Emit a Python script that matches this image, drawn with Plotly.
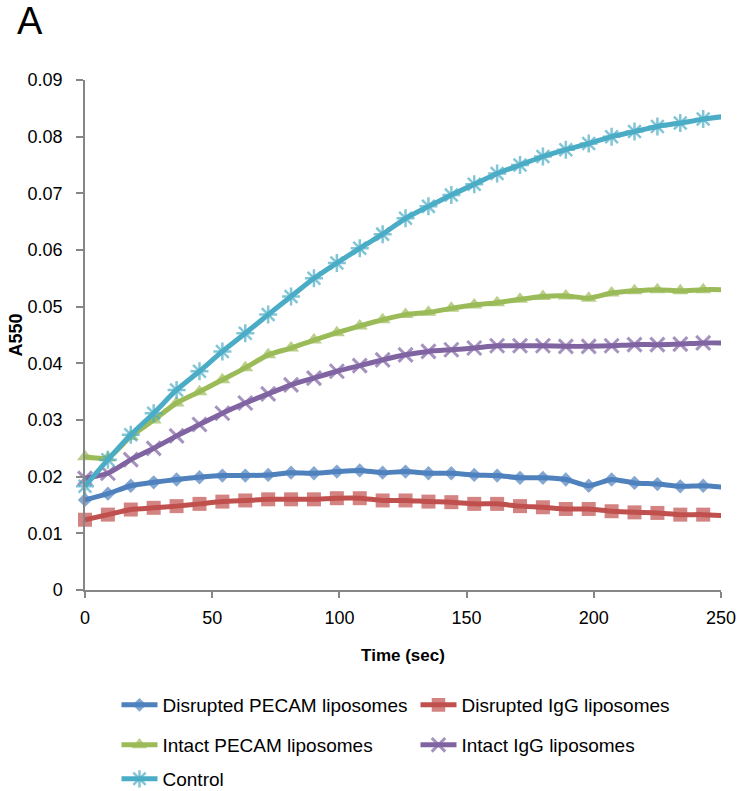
import plotly.graph_objects as go

# Sampling times (s); the final reading lies just past the 250 s axis limit
TIME_SEC = [0, 9, 18, 27, 36, 45, 54, 63, 72, 81, 90, 99, 108, 117, 126,
            135, 144, 153, 162, 171, 180, 189, 198, 207, 216, 225, 234, 243, 252]

DISRUPTED_PECAM = [0.0159, 0.0170, 0.0184, 0.0190, 0.0195, 0.0199, 0.0202, 0.0202,
                   0.0203, 0.0207, 0.0206, 0.0209, 0.0211, 0.0207, 0.0209, 0.0206,
                   0.0206, 0.0203, 0.0202, 0.0198, 0.0198, 0.0195, 0.0184, 0.0195,
                   0.0189, 0.0187, 0.0183, 0.0184, 0.0181]
DISRUPTED_IGG = [0.0124, 0.0133, 0.0142, 0.0145, 0.0148, 0.0152, 0.0156, 0.0158,
                 0.0160, 0.0160, 0.0160, 0.0162, 0.0162, 0.0158, 0.0158, 0.0156,
                 0.0155, 0.0152, 0.0152, 0.0148, 0.0146, 0.0143, 0.0143, 0.0139,
                 0.0137, 0.0136, 0.0133, 0.0133, 0.0131]
INTACT_PECAM = [0.0235, 0.0233, 0.0271, 0.0300, 0.0330, 0.0350, 0.0371, 0.0392,
                0.0415, 0.0427, 0.0441, 0.0454, 0.0466, 0.0477, 0.0486, 0.0490,
                0.0497, 0.0503, 0.0507, 0.0513, 0.0518, 0.0519, 0.0515, 0.0524,
                0.0528, 0.0530, 0.0528, 0.0530, 0.0530]
INTACT_IGG = [0.0197, 0.0206, 0.0230, 0.0250, 0.0272, 0.0292, 0.0312, 0.0330,
              0.0346, 0.0362, 0.0374, 0.0386, 0.0396, 0.0406, 0.0415, 0.0421,
              0.0424, 0.0427, 0.0431, 0.0431, 0.0431, 0.0430, 0.0430, 0.0431,
              0.0433, 0.0433, 0.0434, 0.0436, 0.0436]
CONTROL = [0.0183, 0.0230, 0.0274, 0.0312, 0.0353, 0.0386, 0.0421, 0.0453,
           0.0486, 0.0518, 0.0550, 0.0577, 0.0603, 0.0628, 0.0656, 0.0677,
           0.0697, 0.0716, 0.0735, 0.0750, 0.0765, 0.0777, 0.0788, 0.0800,
           0.0809, 0.0818, 0.0824, 0.0831, 0.0836]

X_MAX = 250
X_TICKS = [0, 50, 100, 150, 200, 250]
Y_TICKS = [0, 0.01, 0.02, 0.03, 0.04, 0.05, 0.06, 0.07, 0.08, 0.09]
Y_TICK_TEXT = ["0", "0.01", "0.02", "0.03", "0.04", "0.05", "0.06", "0.07", "0.08", "0.09"]

FONT = "Liberation Sans, Arial, sans-serif"


def sizes(base):
    # markers past the axis limit are not drawn
    return [base if t <= X_MAX else 0 for t in TIME_SEC]


series = [
    dict(name="Disrupted PECAM liposomes", y=DISRUPTED_PECAM, color="#4F81BD",
         symbol="diamond", size=11, line_w=0, legend="legend"),
    dict(name="Disrupted IgG liposomes", y=DISRUPTED_IGG, color="#C0504D",
         symbol="square", size=14, line_w=0, legend="legend"),
    dict(name="Intact PECAM liposomes", y=INTACT_PECAM, color="#9BBB59",
         symbol="triangle-up", size=14, line_w=0, legend="legend2"),
    dict(name="Intact IgG liposomes", y=INTACT_IGG, color="#8064A2",
         symbol="x-thin-open", size=14, line_w=3, legend="legend2"),
    dict(name="Control", y=CONTROL, color="#4BACC6",
         symbol="asterisk-open", size=15, line_w=2.5, legend="legend3"),
]

fig = go.Figure()
for s in series:
    fig.add_trace(go.Scatter(
        x=TIME_SEC, y=s["y"], name=s["name"], mode="lines+markers",
        line=dict(color=s["color"], width=5, shape="spline", smoothing=0.6),
        marker=dict(symbol=s["symbol"], size=sizes(s["size"]), color=s["color"],
                    line=dict(color=s["color"], width=s["line_w"])),
        cliponaxis=False, legend=s["legend"],
    ))

axis_common = dict(
    showline=True, linecolor="#868686", linewidth=1.5, showgrid=False,
    zeroline=False, ticks="outside", tickcolor="#868686", tickwidth=1.5,
    tickfont=dict(family=FONT, size=18, color="#000000"),
)

legend_common = dict(
    orientation="h", xref="container", yref="container",
    xanchor="left", yanchor="middle",
    font=dict(family=FONT, size=19, color="#000000"),
    entrywidth=248, entrywidthmode="pixels", bgcolor="rgba(0,0,0,0)",
    itemwidth=36,
)

fig.update_layout(
    width=742, height=791,
    margin=dict(l=85, r=20.5, t=80, b=200.7, autoexpand=False),
    paper_bgcolor="#FFFFFF", plot_bgcolor="#FFFFFF",
    xaxis=dict(range=[0, X_MAX], tickvals=X_TICKS, ticklen=6,
               ticklabelstandoff=5,
               title=dict(text="<b>Time (sec)</b>", standoff=22,
                          font=dict(family=FONT, size=17, color="#000000")),
               **axis_common),
    yaxis=dict(range=[0, 0.09], tickvals=Y_TICKS, ticktext=Y_TICK_TEXT, ticklen=7,
               ticklabelstandoff=10,
               title=dict(text="<b>A550</b>", standoff=0,
                          font=dict(family=FONT, size=18, color="#000000")),
               **axis_common),
    legend=dict(x=0.157, y=0.1087, **legend_common),
    legend2=dict(x=0.157, y=0.0582, **legend_common),
    legend3=dict(x=0.157, y=0.0152, **legend_common),
    annotations=[dict(text="A", xref="paper", yref="paper", x=-0.11, y=1.16,
                      xanchor="left", yanchor="top", showarrow=False,
                      font=dict(family=FONT, size=38, color="#000000"))],
)

fig.write_html("out.html")
